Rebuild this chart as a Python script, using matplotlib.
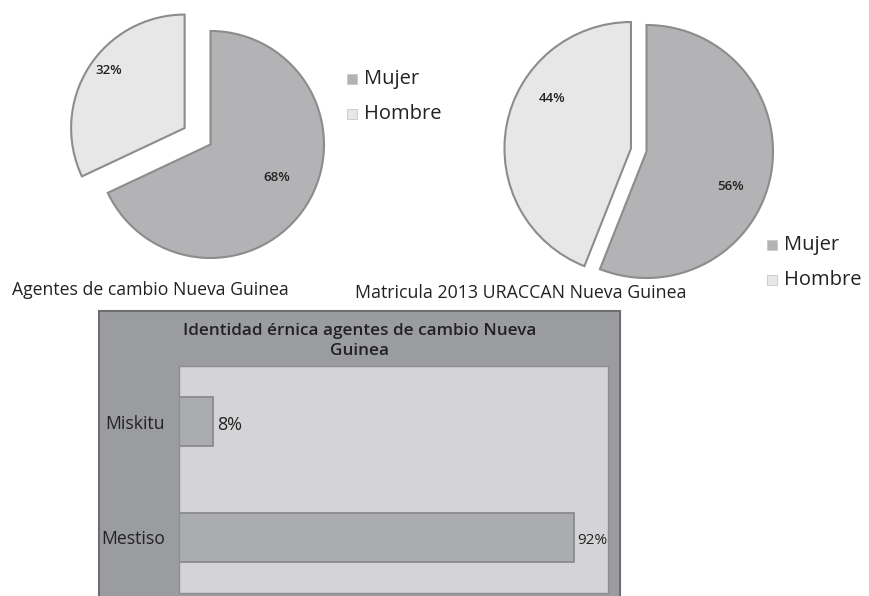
import matplotlib
matplotlib.use("Agg")
import matplotlib.pyplot as plt
import matplotlib.patches as mpatches
import numpy as np

plt.rcParams['font.family'] = ['Open Sans', 'DejaVu Sans']

# ---- data ----
pie_labels = ["Mujer", "Hombre"]
agentes_vals = [68, 32]
matricula_vals = [56, 44]
caption_agentes = "Agentes de cambio Nueva Guinea"
caption_matricula = "Matricula 2013 URACCAN Nueva Guinea"

bar_categories = ["Miskitu", "Mestiso"]
bar_values = [8, 92]
bar_title = "Identidad érnica agentes de cambio Nueva\nGuinea"

# ---- styling ----
W, H = 870, 596
fig = plt.figure(figsize=(W / 100, H / 100), dpi=100)
fig.patch.set_facecolor("white")

C_MUJER = "#b3b3b5"
C_HOMBRE = "#e7e7e8"
C_EDGE = "#8c8c8c"
TXT = "#222222"


def fbox(x0, y0, x1, y1):
    return [x0 / W, 1 - y1 / H, (x1 - x0) / W, (y1 - y0) / H]


def draw_pie(cx, cy, r, vals, explode, label_pos, half=150):
    ax = fig.add_axes(fbox(cx - half, cy - half, cx + half, cy + half))
    wedges, texts, autotexts = ax.pie(
        vals, colors=[C_MUJER, C_HOMBRE], explode=explode, startangle=90,
        counterclock=False, autopct="%d%%", pctdistance=0.7,
        wedgeprops=dict(edgecolor=C_EDGE, linewidth=1.5),
        textprops=dict(fontsize=9.5, color=TXT, fontweight="semibold"))
    for w, t, (dist, dang) in zip(wedges, autotexts, label_pos):
        ang = np.deg2rad((w.theta1 + w.theta2) / 2 + dang)
        c = w.center
        t.set_position((c[0] + dist * np.cos(ang), c[1] + dist * np.sin(ang)))
    lim = half / r
    ax.set_xlim(-lim, lim)
    ax.set_ylim(-lim, lim)
    ax.set_aspect("equal")
    ax.axis("off")
    return wedges


def draw_legend(x, y, spacing=35):
    for i, (lab, col) in enumerate(zip(pie_labels, [C_MUJER, C_HOMBRE])):
        yy = y + i * spacing
        fig.add_artist(mpatches.Rectangle((x / W, 1 - (yy + 5) / H), 10 / W, 10 / H,
                                          transform=fig.transFigure,
                                          facecolor=col, edgecolor="#c8c8c8", lw=0.6))
        fig.text((x + 17) / W, 1 - yy / H, lab, fontsize=14.5, color=TXT,
                 ha="left", va="center")


# Pie 1
draw_pie(210.5, 144.5, 113.5, agentes_vals, [0, 0.27],
         [(0.65, 6), (0.84, -5)])
draw_legend(347, 79)
fig.text(150 / W, 1 - 290 / H, caption_agentes, fontsize=12.7, color=TXT,
         ha="center", va="center")

# Pie 2
draw_pie(646.5, 151.5, 126.5, matricula_vals, [0, 0.125],
         [(0.72, -12), (0.74, -21.5)], half=140)
draw_legend(767, 245)
fig.text(521 / W, 1 - 293 / H, caption_matricula, fontsize=12.8, color=TXT,
         ha="center", va="center")

# Bar chart frame
fig.add_artist(mpatches.Rectangle((99 / W, 1 - 610 / H), (620 - 99) / W, (610 - 311) / H,
                                  transform=fig.transFigure, facecolor="#9b9ca0",
                                  edgecolor="#6e6e70", lw=1.5, zorder=0))
fig.text(360 / W, 1 - 341 / H, bar_title, fontsize=12.3, color=TXT,
         ha="center", va="center", fontweight="semibold", linespacing=1.3)

axb = fig.add_axes(fbox(179, 366, 608, 593))
axb.set_facecolor("#d4d4d6")
ypos = np.arange(len(bar_categories))
axb.barh(ypos, bar_values, height=0.42, color="#abacaf", edgecolor="#878789", lw=1.2)
axb.set_xlim(0, 100)
axb.set_ylim(len(bar_categories) - 0.52, -0.48)
axb.set_yticks(ypos, bar_categories)
axb.set_xticks([])
axb.tick_params(axis="y", length=0, pad=10, labelsize=12.7, labelcolor=TXT)
for s in axb.spines.values():
    s.set_color("#8e8e90")
    s.set_linewidth(1)
for i, (v, fs) in enumerate(zip(bar_values, [13, 11])):
    axb.text(v + 0.8, i + 0.03, f"{v}%", fontsize=fs, color=TXT, ha="left", va="center")

fig.savefig("out.png", dpi=100)
